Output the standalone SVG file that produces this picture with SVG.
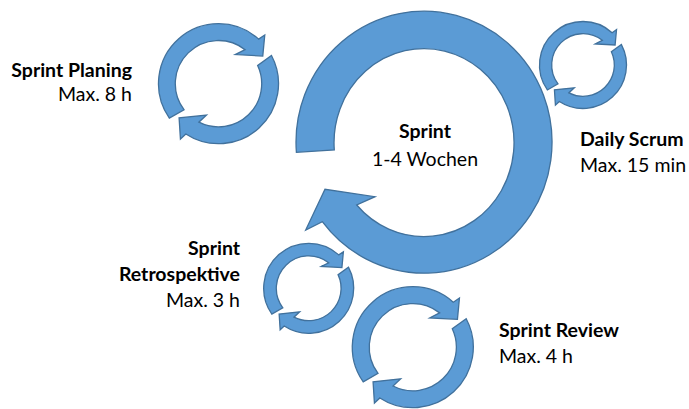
<svg xmlns="http://www.w3.org/2000/svg" xmlns:xlink="http://www.w3.org/1999/xlink" width="689" height="409" viewBox="0 0 689 409">
  <style>
    .arr { fill: #5B9BD5; stroke: #41719C; stroke-width: 1.3; vector-effect: non-scaling-stroke; stroke-linejoin: miter; }
    .t { font-family: "Lato", "Liberation Sans", sans-serif; font-size: 19.5px; fill: #000; }
    .b { font-weight: bold; }
  </style>
  <defs>
    <g id="cyc">
      <path class="arr" d="M -0.8192 0.5736 A 1 1 0 0 1 0.6691 -0.7431 L 0.7710 -0.8124 L 0.7378 -0.4610 L 0.2800 -0.4850 L 0.4433 -0.5674 A 0.72 0.72 0 0 0 -0.5750 0.4333 Z"/>
      <path class="arr" d="M 0.8829 -0.4695 A 1 1 0 0 1 -0.5446 0.8387 L -0.6344 0.9230 L -0.6566 0.5708 L -0.2007 0.5228 L -0.3269 0.6415 A 0.72 0.72 0 0 0 0.6525 -0.3043 Z"/>
    </g>
  </defs>
  <rect width="689" height="409" fill="#FFFFFF"/>
  <g id="connectors"></g>
  <g id="sprint">
    <path class="arr" d="M 296.4 152.3 A 128 131 0 1 1 322.3 221.7 L 305.7 230 L 325 189.3 L 375 196.7 L 356.7 205 A 90 94 0 1 0 334.3 150 Z"/>
    <text class="t b" x="425" y="137.5" text-anchor="middle">Sprint</text>
    <text class="t" x="425" y="165.5" text-anchor="middle">1-4 Wochen</text>
  </g>
  <g id="planning">
    <use href="#cyc" xlink:href="#cyc" transform="translate(218.5 83.7) scale(60)"/>
    <text class="t b" x="132" y="76.5" text-anchor="end">Sprint Planing</text>
    <text class="t" x="132" y="101" text-anchor="end">Max. 8 h</text>
  </g>
  <g id="daily">
    <use href="#cyc" xlink:href="#cyc" transform="translate(583 65) scale(43.5)"/>
    <text class="t b" x="580" y="146">Daily Scrum</text>
    <text class="t" x="580" y="172">Max. 15 min</text>
  </g>
  <g id="retro">
    <use href="#cyc" xlink:href="#cyc" transform="translate(308.7 288.3) scale(45)"/>
    <text class="t b" x="240" y="255" text-anchor="end">Sprint</text>
    <text class="t b" x="240" y="281" text-anchor="end">Retrospektive</text>
    <text class="t" x="240" y="307" text-anchor="end">Max. 3 h</text>
  </g>
  <g id="review">
    <use href="#cyc" xlink:href="#cyc" transform="translate(412.8 347.2) scale(60.5)"/>
    <text class="t b" x="499" y="337">Sprint Review</text>
    <text class="t" x="499" y="363">Max. 4 h</text>
  </g>
</svg>
